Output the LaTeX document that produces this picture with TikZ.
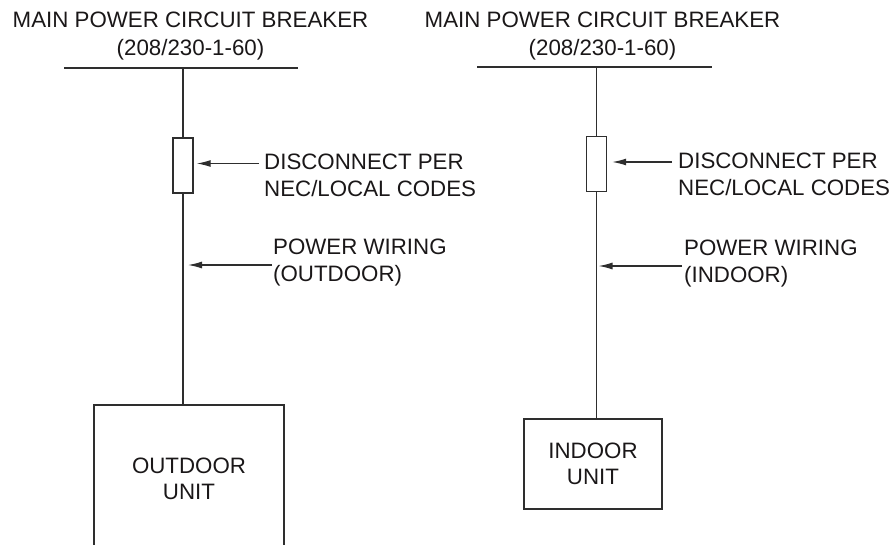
\documentclass[tikz,border=0pt]{standalone}
\usepackage{fontspec}
\setmainfont{Liberation Sans}
\usetikzlibrary{arrows.meta, positioning, calc}
\definecolor{wireclr}{HTML}{2E2E2E}
\definecolor{txtclr}{HTML}{1A1718}
\begin{document}
\begin{tikzpicture}[
    x=1pt, y=-1pt,
    lbl/.style={inner sep=0, align=left, anchor=west, text=txtclr, font=\fontsize{22.3}{27.5}\selectfont},
    title/.style={lbl, align=center, anchor=center},
    unit_blk/.style={draw=wireclr, line width=1.3pt, align=center, inner sep=0, text=txtclr, font=\fontsize{22.3}{26}\selectfont},
    disc_blk/.style={draw=wireclr, line width=1.3pt, minimum width=20pt, minimum height=55pt, inner sep=0},
    wire/.style={draw=wireclr, line width=1.3pt},
    arrow/.style={wire, -{Latex[length=14pt,width=7pt]}}
]
    \useasboundingbox (0,0) rectangle (890,544);

    % Outdoor side
    \node[title] (brk_out) at (190.5,36) {MAIN POWER CIRCUIT BREAKER\\(208/230-1-60)};
    \coordinate (bus_out_w) at (64,68);
    \coordinate (bus_out_e) at (298,68);
    \node[disc_blk] (disc_out) at (183,165.5) {};
    \node[lbl] (dc_out) at (264,175.5) {DISCONNECT PER\\NEC/LOCAL CODES};
    \node[lbl] (pw_out) at (273,262.5) {POWER WIRING\\(OUTDOOR)};
    \node[unit_blk, minimum width=190pt, minimum height=148pt] (unit_out) at (189,479) {OUTDOOR\\UNIT};
    \coordinate (dc_out_tail) at ([xshift=-5pt, yshift=12pt]dc_out.west);
    \coordinate (pw_out_tail) at ([xshift=-1pt, yshift=-2.5pt]pw_out.west);

    \draw[wire] (bus_out_w) -- (bus_out_e);
    \draw[wire] (disc_out.north |- bus_out_w) -- (disc_out.north);
    \draw[wire] (disc_out.south) -- (disc_out.south |- unit_out.north);
    \draw[arrow, shorten >=3pt] (dc_out_tail) -- (disc_out.east |- dc_out_tail);
    \draw[arrow, shorten >=5pt] (pw_out_tail) -- (disc_out.center |- pw_out_tail);

    % Indoor side
    \node[title] (brk_in) at (602.5,36) {MAIN POWER CIRCUIT BREAKER\\(208/230-1-60)};
    \coordinate (bus_in_w) at (477,67);
    \coordinate (bus_in_e) at (712,67);
    \node[disc_blk] (disc_in) at (596.5,164) {};
    \node[lbl] (dc_in) at (678,174.5) {DISCONNECT PER\\NEC/LOCAL CODES};
    \node[lbl] (pw_in) at (684,263.5) {POWER WIRING\\(INDOOR)};
    \node[unit_blk, minimum width=138pt, minimum height=90pt] (unit_in) at (593,464) {INDOOR\\UNIT};
    \coordinate (dc_in_tail) at ([xshift=-6pt, yshift=12.5pt]dc_in.west);
    \coordinate (pw_in_tail) at ([xshift=-2pt, yshift=-2.5pt]pw_in.west);

    \draw[wire] (bus_in_w) -- (bus_in_e);
    \draw[wire] (disc_in.north |- bus_in_w) -- (disc_in.north);
    \draw[wire] (disc_in.south) -- (disc_in.south |- unit_in.north);
    \draw[arrow, shorten >=5pt] (dc_in_tail) -- (disc_in.east |- dc_in_tail);
    \draw[arrow, shorten >=2pt] (pw_in_tail) -- (disc_in.center |- pw_in_tail);

\end{tikzpicture}
\end{document}
